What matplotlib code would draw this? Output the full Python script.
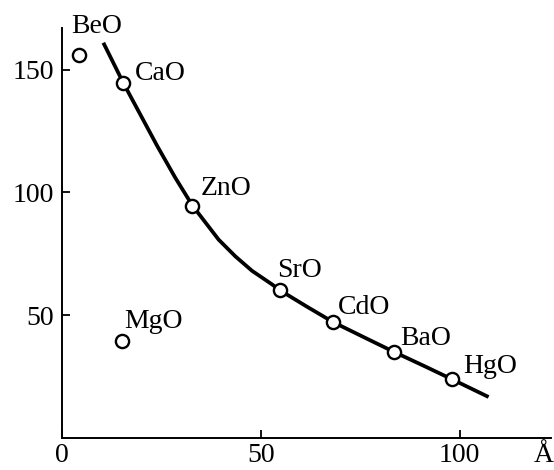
import matplotlib
matplotlib.use("Agg")
import matplotlib.pyplot as plt
import matplotlib.transforms as mtransforms

plt.rcParams['font.family'] = ['Liberation Serif', 'DejaVu Serif']

# Data
names = ["BeO", "CaO", "ZnO", "SrO", "CdO", "BaO", "HgO", "MgO"]
x_vals = [4.3, 15.4, 32.8, 54.8, 68.2, 83.6, 98.0, 15.1]
y_vals = [156, 144.7, 94.7, 60.2, 47.2, 35.0, 24.0, 39.4]
label_x = [2.2, 18.4, 34.8, 54.2, 69.3, 85.1, 100.8, 15.6]
label_y = [165, 145.8, 99, 65.6, 50.5, 37.9, 26.5, 44.8]

curve_x = [10.4, 15.4, 23.9, 28.5, 32.8, 39.4, 43.6, 47.8, 52.8, 54.8,
           61.5, 68.2, 76.0, 83.6, 91.0, 98.0, 107.3]
curve_y = [161, 144.7, 119.1, 106.0, 94.7, 80.8, 74.0, 68.1, 62.6, 60.2,
           53.6, 47.2, 41.0, 35.0, 29.4, 24.0, 16.7]

xticks = [0, 50, 100]
yticks = [50, 100, 150]
x_unit = "Å"

fig = plt.figure(figsize=(5.54, 4.70), dpi=100)
ax = fig.add_axes([62/554, 32/470, 489/554, 410/470])
ax.set_xlim(0, 123)
ax.set_ylim(0, 167)

ax.plot(curve_x, curve_y, color='black', lw=2.7, solid_capstyle='butt',
        solid_joinstyle='round', zorder=2)
ax.plot(x_vals, y_vals, linestyle='none', marker='o', ms=9.5, mfc='white',
        mec='black', mew=1.7, zorder=3)

for n, lx, ly in zip(names, label_x, label_y):
    ax.text(lx, ly, n, fontsize=20, ha='left', va='baseline', color='black')

for s in ['top', 'right']:
    ax.spines[s].set_visible(False)
for s in ['left', 'bottom']:
    ax.spines[s].set_linewidth(1.4)

ax.set_xticks(xticks)
ax.set_yticks(yticks)
ax.set_xticklabels([str(t) for t in xticks])
ax.set_yticklabels([str(t) for t in yticks])
ax.tick_params(direction='in', length=6, width=1.3, labelsize=20, pad=6)
ax.tick_params(axis='x', pad=3.5)

trans = mtransforms.blended_transform_factory(ax.transData, ax.transAxes)
ax.text(121.3, -0.012, x_unit, transform=trans, ha='center', va='top', fontsize=20)

fig.savefig("out.png", dpi=100)
